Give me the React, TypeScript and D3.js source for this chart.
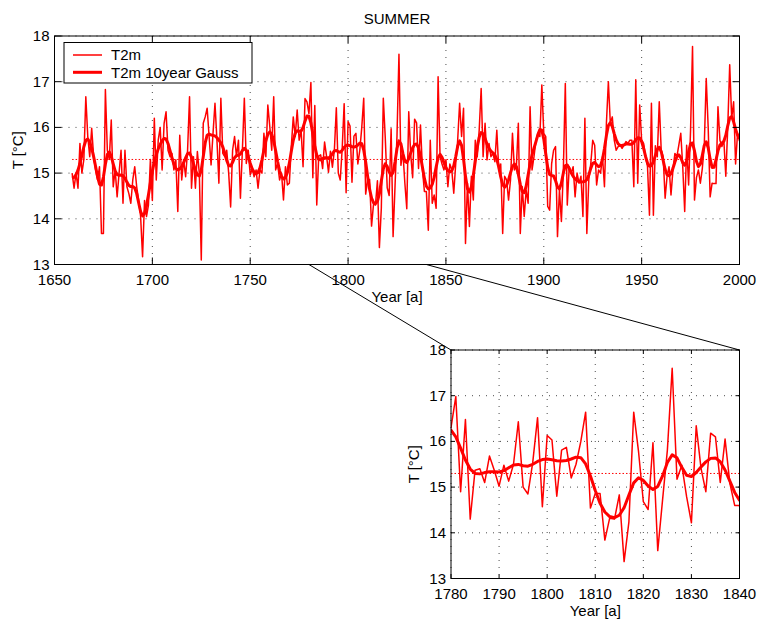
import React from 'react';
import * as d3 from 'd3';

// summer T2m, one value per year starting 1659
const startYear = 1659;

const t2m1659 = [
  15.0, 14.67, 15.0, 14.67, 15.65, 15.0, 15.3, 16.67, 15.8, 15.36,
  15.98, 15.36, 15.07, 14.85, 15.14, 13.68, 13.68, 16.83, 15.5, 15.3,
  16.16, 14.7, 15.07, 14.48, 15.0, 15.5, 14.34, 15.5, 14.7, 14.55,
  14.34, 14.85, 15.14, 14.7, 14.4, 14.05, 13.17,
];
const t2m1696 = [
  14.4, 14.05, 14.3, 15.3, 14.4, 16.2, 14.85, 15.72, 16.0, 15.07,
  16.09, 16.34, 15.5, 15.36, 15.43, 15.07, 15.29, 14.16, 15.83, 14.85,
  15.29, 14.92, 15.5, 16.67, 14.67, 15.36, 14.67, 15.47, 14.99, 13.1,
  16.09, 16.23, 16.42, 15.8, 15.18,
];
const t2m1731 = [
  15.87, 16.53, 15.72, 14.78, 16.64, 15.43, 15.36, 15.5, 15.0, 14.26,
  15.5, 15.8, 15.36, 15.72, 14.45, 15.5, 16.64, 15.21, 15.5, 14.96,
  15.1, 14.92, 15.07, 14.67, 15.07, 15.0, 15.87, 15.36, 16.49, 16.02,
  15.5, 16.67, 15.07, 15.21, 14.85, 15.0, 14.41, 15.14, 14.74, 14.78,
  15.58, 16.23, 15.8, 16.38, 15.72, 15.94, 15.14, 16.63, 16.56,
];
const t2m1780 = [
  16.3, 16.98, 14.9, 16.48, 14.3, 15.37, 15.4, 15.1, 15.68, 15.37,
  15.02, 15.48, 15.13, 15.5, 16.43, 15.0, 14.85, 15.54, 16.52, 14.57,
  16.13, 16.03, 14.8, 15.81, 15.87, 15.2, 15.5, 16.0, 16.64, 14.54,
  14.86, 14.86, 13.84, 14.32, 14.3, 14.83, 13.37, 14.24, 16.64, 15.78,
  14.68, 14.51, 15.97, 13.61, 14.72, 15.81, 17.6, 15.17, 15.48, 14.79,
  14.22, 16.34, 15.41, 14.9, 16.18, 16.1, 15.1, 16.05, 15.08, 14.6,
  14.6,
];
const t2m1841 = [
  13.75, 15.72, 14.34, 14.52, 14.23, 17.11, 15.36, 15.2, 15.07, 15.29,
  14.7, 15.2, 15.07, 14.56, 15.2, 15.72, 16.53, 15.8, 16.42, 13.46,
  14.78, 13.83, 14.93, 14.41, 15.72, 15.36, 15.94, 16.85, 15.36, 16.09,
  15.29, 15.65, 15.36, 15.43, 15.25, 15.94, 15.07, 15.2, 13.68, 14.93,
  14.85, 14.41, 14.85, 15.87, 15.07, 15.14, 16.09, 13.68, 14.7, 14.05,
  14.63, 14.34, 16.45, 15.07, 15.36, 15.72, 15.87, 15.8,
];
const t2m1899 = [
  16.93, 15.87, 15.8, 14.27, 14.19, 15.2, 15.5, 15.58, 13.61, 14.63,
  13.94, 15.07, 16.96, 14.3, 15.14, 15.0, 15.14, 14.48, 15.0, 14.78,
  14.93, 14.05, 16.2, 13.68, 14.85, 15.2, 15.72, 15.61, 14.74, 15.07,
  15.0, 15.36, 14.7, 16.09, 17.0, 16.09, 16.23, 15.72, 15.5, 15.58,
  15.61, 15.54, 15.61, 15.69, 15.65, 15.72, 15.72, 14.7, 17.04, 14.78,
  16.49, 15.72, 15.65, 15.36, 15.14,
];
const t2m1954 = [
  14.08, 16.53, 14.08, 15.6, 15.36, 16.56, 15.5, 15.36, 14.45, 14.93,
  15.14, 14.52, 15.07, 15.43, 15.36, 15.61, 15.87, 15.14, 14.16, 15.61,
  14.74, 15.94, 17.77, 14.41, 14.9, 15.07, 14.78, 15.1, 15.6, 17.07,
  16.0, 14.48, 14.78, 14.77, 14.77, 16.45, 15.72, 15.58, 15.72, 14.93,
  16.0, 17.37, 16.2, 16.56, 15.2, 15.87, 15.7,
];

const t2m = [...t2m1659, ...t2m1696, ...t2m1731, ...t2m1780, ...t2m1841, ...t2m1899, ...t2m1954];
const years = t2m.map((_, i) => startYear + i);

const mainYearTicks = [1650, 1700, 1750, 1800, 1850, 1900, 1950, 2000];
const zoomYearTicks = [1780, 1790, 1800, 1810, 1820, 1830, 1840];
const tempTicks = [13, 14, 15, 16, 17, 18];
const legendLabels = ['T2m', 'T2m 10year Gauss'];

// gaussian filter of the annual series
const gauss = (vals: number[], sigma: number) =>
  vals.map((_, i) => {
    let s = 0, w = 0;
    const r = Math.ceil(sigma * 4);
    for (let k = -r; k <= r; k++) {
      const j = i + k;
      if (j < 0 || j >= vals.length) continue;
      const g = Math.exp(-(k * k) / (2 * sigma * sigma));
      s += g * vals[j];
      w += g;
    }
    return s / w;
  });

const smooth = gauss(t2m, 1.8);
const meanT = d3.mean(t2m) as number;

const FONT = '"Liberation Sans", Arial, Helvetica, sans-serif';
const RED = '#ff0000';

type Pt = { year: number; value: number };
const raw: Pt[] = years.map((y, i) => ({ year: y, value: t2m[i] }));
const gs: Pt[] = years.map((y, i) => ({ year: y, value: smooth[i] }));

interface PanelProps {
  id: string;
  left: number; right: number; top: number; bottom: number;
  xDomain: [number, number];
  xTicks: number[];
  tickLen: number;
  labelOffset: number;
}

const Panel = ({ id, left, right, top, bottom, xDomain, xTicks, tickLen, labelOffset }: PanelProps) => {
  const x = d3.scaleLinear().domain(xDomain).range([left, right]);
  const y = d3.scaleLinear().domain([13, 18]).range([bottom, top]);
  const line = d3.line<Pt>().x(d => x(d.year)).y(d => y(d.value));
  const grid = '1,6';

  return (
    <g>
      <defs>
        <clipPath id={id}>
          <rect x={left} y={top} width={right - left} height={bottom - top} />
        </clipPath>
      </defs>
      <rect x={left} y={top} width={right - left} height={bottom - top} fill="#fff" />
      {/* grid */}
      {xTicks.map(t => (
        <line key={'gx' + t} x1={x(t)} x2={x(t)} y1={top} y2={bottom}
          stroke="#000" strokeWidth={1} strokeDasharray={grid} opacity={0.7} />
      ))}
      {tempTicks.map(t => (
        <line key={'gy' + t} x1={left} x2={right} y1={y(t)} y2={y(t)}
          stroke="#000" strokeWidth={1} strokeDasharray={grid} opacity={0.7} />
      ))}
      <g clipPath={`url(#${id})`}>
        <line x1={x(Math.max(xDomain[0], startYear))} x2={x(xDomain[1])} y1={y(meanT)} y2={y(meanT)}
          stroke={RED} strokeWidth={1} strokeDasharray="1.5,2" />
        <path d={line(raw) as string} fill="none" stroke={RED} strokeWidth={1.5} strokeLinejoin="round" />
        <path d={line(gs) as string} fill="none" stroke={RED} strokeWidth={3} strokeLinejoin="round" />
      </g>
      {/* box and ticks */}
      <rect x={left} y={top} width={right - left} height={bottom - top} fill="none" stroke="#000" strokeWidth={1} />
      {xTicks.map(t => (
        <g key={'tx' + t}>
          <line x1={x(t)} x2={x(t)} y1={bottom} y2={bottom - tickLen} stroke="#000" />
          <line x1={x(t)} x2={x(t)} y1={top} y2={top + tickLen} stroke="#000" />
          <text x={x(t)} y={bottom + labelOffset} textAnchor="middle" fontSize={15} fontFamily={FONT}>{t}</text>
        </g>
      ))}
      {tempTicks.map(t => (
        <g key={'ty' + t}>
          <line x1={left} x2={left + tickLen} y1={y(t)} y2={y(t)} stroke="#000" />
          <line x1={right} x2={right - tickLen} y1={y(t)} y2={y(t)} stroke="#000" />
          <text x={left - 5} y={y(t) + 5} textAnchor="end" fontSize={15} fontFamily={FONT}>{t}</text>
        </g>
      ))}
      <text x={(left + right) / 2} y={bottom + labelOffset + 17} textAnchor="middle" fontSize={15} fontFamily={FONT}>Year [a]</text>
      <text transform={`translate(${left - 32},${(top + bottom) / 2}) rotate(-90)`} textAnchor="middle"
        fontSize={15} fontFamily={FONT}>T [°C]</text>
    </g>
  );
};

const App = () => {
  const main = { left: 54.5, right: 739.5, top: 36, bottom: 264.5 };
  const zoom = { left: 451, right: 739.5, top: 350, bottom: 578.5 };
  const xMain = d3.scaleLinear().domain([1650, 2000]).range([main.left, main.right]);

  return (
    <svg width={759} height={621} style={{ position: 'absolute', left: 0, top: 0, background: '#fff' }}>
      <rect width={759} height={621} fill="#fff" />
      <text x={(main.left + main.right) / 2} y={24} textAnchor="middle" fontSize={15} fontFamily={FONT}>SUMMER</text>
      <Panel id="clip-main" {...main} xDomain={[1650, 2000]} xTicks={mainYearTicks} tickLen={7} labelOffset={20} />
      {/* legend */}
      <g>
        <rect x={64} y={42.5} width={188} height={40.5} fill="#fff" stroke="#000" strokeWidth={1} />
        <line x1={73} x2={102} y1={55} y2={55} stroke={RED} strokeWidth={1.5} />
        <line x1={73} x2={102} y1={72.3} y2={72.3} stroke={RED} strokeWidth={3} />
        <text x={111} y={60} fontSize={15} fontFamily={FONT}>{legendLabels[0]}</text>
        <text x={111} y={77.5} fontSize={15} fontFamily={FONT}>{legendLabels[1]}</text>
      </g>
      <Panel id="clip-zoom" {...zoom} xDomain={[1780, 1840]} xTicks={zoomYearTicks} tickLen={4} labelOffset={20} />
      {/* connectors from the main axis to the zoom panel */}
      <line x1={xMain(zoomYearTicks[0])} y1={main.bottom} x2={zoom.left} y2={zoom.top} stroke="#000" strokeWidth={1} />
      <line x1={xMain(zoomYearTicks[zoomYearTicks.length - 1])} y1={main.bottom} x2={zoom.right} y2={zoom.top} stroke="#000" strokeWidth={1} />
    </svg>
  );
};

export default App;
